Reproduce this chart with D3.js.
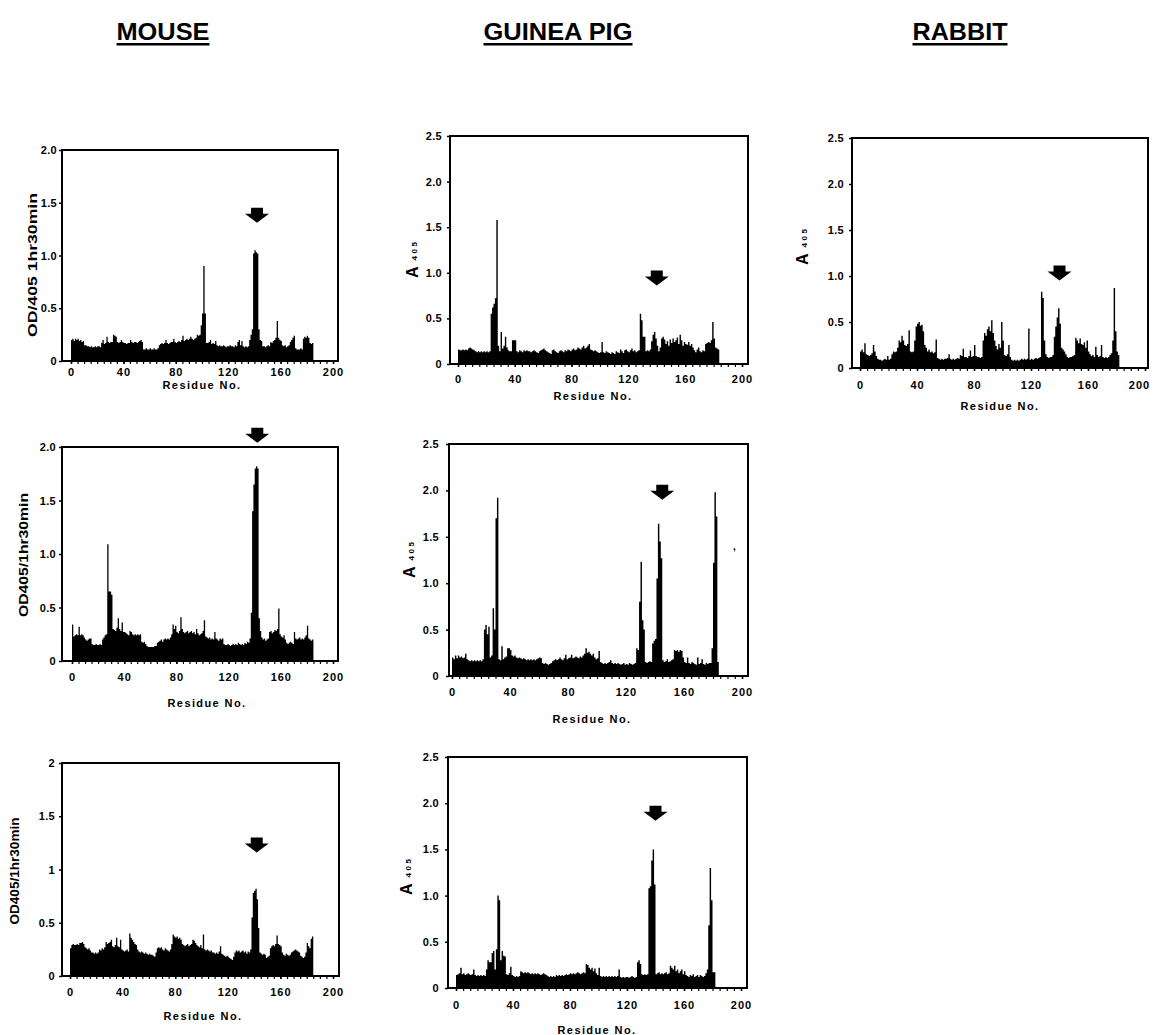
<!DOCTYPE html>
<html>
<head>
<meta charset="utf-8">
<script src="https://cdn.jsdelivr.net/npm/d3@7"></script>
<style>
  body { margin: 0; background: #fff; }
  svg text { font-family: "Liberation Sans", Arial, sans-serif; font-weight: bold; fill: #000; }
</style>
</head>
<body>
<svg id="chart" width="1153" height="1035"></svg>
<script>
// ---------- data (one value per peptide / residue) ----------
const residueTicks = [0, 40, 80, 120, 160, 200];

const speciesTitles = ["MOUSE", "GUINEA PIG", "RABBIT"];

const yTicksMouse = [0, 0.5, 1, 1.5, 2];
const yTicksGuinea = [0, 0.5, 1, 1.5, 2, 2.5];
const yLabelsMouse = ["0", "0.5", "1.0", "1.5", "2.0"];
const yLabelsMouseB = ["0", "0.5", "1", "1.5", "2"];
const yLabelsGuinea = ["0", "0.5", "1.0", "1.5", "2.0", "2.5"];

// residue under each arrow, and the value at the arrow tip
const arrowResidue = [142, 140, 140, 142, 145, 142, 140];
const arrowValue = [1.31, 0.86, 0.95, 2.04, 1.90, 1.16, 1.81];

// mouse, serum 1
const mouse1 = [
  .20,.21,.19,.21,.20,.21,.19,.20,.18,.19,
  .15,.15,.14,.14,.13,.14,.13,.13,.14,.13,
  .14,.14,.13,.17,.20,.16,.17,.23,.18,.17,
  .18,.18,.25,.24,.23,.18,.17,.18,.20,.18,
  .17,.17,.16,.17,.17,.20,.18,.17,.18,.18,
  .17,.18,.19,.20,.18,.11,.11,.12,.11,.11,
  .12,.11,.11,.12,.11,.11,.12,.15,.16,.17,
  .16,.17,.20,.17,.16,.17,.18,.18,.21,.18,
  .17,.18,.19,.18,.20,.24,.19,.20,.21,.20,
  .21,.23,.21,.20,.21,.22,.25,.24,.25,.34,
  .45,.90,.45,.17,.17,.18,.20,.16,.17,.16,
  .19,.15,.14,.15,.14,.14,.15,.14,.13,.14,
  .14,.15,.14,.14,.13,.15,.14,.18,.20,.15,
  .19,.14,.13,.14,.13,.14,.20,.25,.30,1.02,
  1.05,1.03,1.02,.30,.20,.19,.14,.14,.13,.14,
  .15,.14,.18,.17,.19,.20,.22,.38,.22,.20,
  .19,.15,.14,.15,.13,.14,.15,.18,.20,.22,
  .24,.12,.11,.11,.11,.12,.11,.21,.23,.22,
  .24,.22,.17,.16,.17
];

// guinea pig, serum 1
const guinea1 = [
  .16,.15,.15,.16,.15,.16,.15,.17,.18,.17,
  .16,.15,.14,.13,.14,.13,.14,.13,.14,.13,
  .14,.13,.14,.55,.62,.66,.72,1.58,.20,.14,
  .35,.17,.20,.30,.18,.15,.14,.14,.26,.26,
  .26,.14,.13,.15,.14,.13,.15,.14,.15,.14,
  .14,.13,.14,.15,.14,.13,.12,.14,.15,.16,
  .17,.15,.14,.13,.12,.11,.15,.16,.14,.13,
  .12,.14,.15,.14,.13,.15,.14,.16,.15,.14,
  .16,.17,.15,.16,.18,.17,.16,.18,.20,.17,
  .18,.20,.22,.16,.15,.14,.15,.14,.13,.12,
  .13,.24,.13,.12,.14,.13,.12,.11,.13,.12,
  .11,.14,.13,.12,.16,.14,.12,.15,.16,.14,
  .13,.15,.17,.14,.15,.13,.14,.15,.55,.48,
  .30,.30,.14,.15,.14,.16,.25,.32,.35,.28,
  .20,.14,.18,.28,.30,.27,.22,.25,.20,.27,
  .23,.28,.24,.26,.29,.22,.32,.26,.20,.24,
  .22,.21,.24,.20,.22,.18,.15,.13,.16,.18,
  .14,.13,.15,.14,.22,.23,.24,.23,.26,.46,
  .28,.18,.17,.16
];

// rabbit
const rabbit1 = [
  .18,.20,.17,.27,.15,.14,.13,.14,.16,.25,
  .18,.13,.10,.09,.09,.08,.09,.10,.09,.13,
  .09,.10,.15,.18,.17,.18,.22,.30,.28,.35,
  .30,.25,.24,.26,.41,.18,.17,.18,.30,.45,
  .48,.50,.46,.47,.40,.25,.22,.18,.20,.17,
  .18,.16,.17,.31,.11,.10,.09,.10,.09,.10,
  .10,.11,.15,.10,.09,.10,.09,.10,.11,.10,
  .14,.13,.21,.12,.12,.11,.13,.19,.12,.13,
  .25,.13,.12,.12,.11,.12,.30,.38,.35,.42,
  .45,.40,.52,.38,.30,.24,.20,.26,.22,.50,
  .30,.14,.13,.15,.25,.12,.09,.08,.09,.08,
  .09,.08,.09,.10,.09,.10,.09,.10,.43,.09,
  .10,.09,.10,.11,.10,.11,.12,.83,.76,.30,
  .15,.12,.11,.12,.12,.14,.34,.45,.55,.65,
  .48,.22,.20,.18,.15,.12,.11,.12,.12,.13,
  .14,.33,.30,.27,.32,.26,.25,.28,.22,.30,
  .18,.15,.13,.14,.12,.23,.14,.12,.13,.25,
  .12,.11,.12,.11,.12,.14,.16,.30,.87,.40,
  .18,.14
];

// mouse, serum 2
const mouse2 = [
  .34,.23,.24,.25,.24,.32,.24,.25,.24,.22,
  .20,.19,.20,.21,.21,.16,.15,.15,.16,.15,
  .15,.16,.15,.20,.22,.24,.25,1.09,.65,.65,
  .62,.30,.29,.28,.31,.40,.30,.28,.36,.27,
  .27,.26,.25,.24,.28,.27,.25,.24,.25,.24,
  .25,.24,.25,.18,.17,.18,.16,.14,.13,.13,
  .13,.13,.13,.14,.14,.17,.18,.19,.20,.18,
  .20,.21,.20,.21,.20,.22,.25,.34,.30,.33,
  .27,.26,.28,.41,.30,.27,.26,.27,.28,.26,
  .27,.28,.26,.27,.25,.30,.26,.24,.25,.26,
  .28,.38,.23,.22,.21,.22,.20,.21,.20,.27,
  .21,.20,.19,.21,.20,.21,.16,.15,.15,.16,
  .15,.14,.15,.16,.15,.16,.15,.17,.16,.15,
  .16,.15,.17,.16,.18,.17,.21,.45,1.40,1.65,
  1.80,1.82,1.80,.40,.28,.22,.20,.21,.19,.20,
  .21,.27,.28,.26,.27,.29,.28,.30,.49,.25,
  .23,.22,.24,.20,.17,.16,.17,.18,.17,.16,
  .27,.21,.20,.21,.22,.20,.21,.20,.22,.24,
  .33,.21,.20,.19,.20
];

// guinea pig, serum 2
const guinea2 = [
  .20,.18,.22,.19,.22,.20,.21,.19,.20,.24,
  .18,.17,.16,.17,.16,.17,.16,.17,.16,.17,
  .16,.18,.50,.55,.45,.53,.20,.22,.73,.50,
  1.70,1.92,.18,.17,.32,.18,.20,.21,.30,.30,
  .28,.22,.21,.22,.20,.19,.20,.19,.18,.19,
  .18,.17,.18,.17,.18,.17,.18,.17,.18,.19,
  .20,.19,.14,.13,.14,.13,.12,.13,.14,.16,
  .17,.18,.17,.18,.20,.18,.17,.19,.23,.18,
  .19,.20,.23,.19,.20,.21,.20,.19,.21,.20,
  .22,.24,.30,.25,.26,.24,.22,.24,.20,.18,
  .19,.27,.15,.14,.13,.14,.13,.14,.15,.17,
  .14,.13,.14,.13,.14,.13,.12,.13,.14,.12,
  .13,.12,.14,.13,.12,.13,.14,.30,.28,.80,
  1.23,.60,.50,.15,.14,.15,.16,.15,.35,.38,
  .40,1.05,1.64,1.45,1.27,.17,.15,.16,.18,.15,
  .16,.17,.18,.28,.27,.28,.26,.28,.27,.20,
  .15,.14,.20,.14,.13,.15,.14,.13,.12,.20,
  .13,.14,.18,.13,.12,.14,.13,.14,.14,.30,
  1.22,1.98,1.72,.15
];

// mouse, serum 3
const mouse3 = [
  .26,.29,.30,.29,.29,.30,.29,.31,.31,.32,
  .30,.27,.26,.25,.26,.24,.22,.22,.21,.22,
  .21,.22,.25,.24,.26,.25,.27,.32,.30,.31,
  .32,.34,.28,.27,.29,.36,.28,.27,.34,.25,
  .24,.23,.24,.25,.23,.40,.36,.34,.32,.30,
  .29,.25,.23,.22,.23,.22,.21,.22,.21,.20,
  .21,.20,.20,.19,.18,.22,.26,.27,.26,.27,
  .25,.24,.26,.25,.24,.23,.25,.30,.39,.37,
  .36,.37,.35,.36,.34,.30,.29,.28,.29,.30,
  .28,.29,.30,.34,.33,.31,.29,.28,.27,.29,
  .26,.39,.25,.24,.25,.24,.23,.24,.22,.22,
  .21,.22,.21,.23,.28,.21,.20,.19,.18,.19,
  .18,.17,.16,.15,.18,.22,.24,.23,.24,.22,
  .23,.24,.22,.23,.21,.23,.22,.25,.55,.78,
  .80,.82,.72,.45,.22,.21,.20,.21,.20,.17,
  .18,.19,.26,.28,.29,.28,.30,.38,.30,.29,
  .28,.22,.20,.19,.21,.20,.19,.20,.22,.23,
  .24,.25,.24,.23,.22,.19,.18,.17,.18,.22,
  .31,.28,.26,.35,.37
];

// guinea pig, serum 3
const guinea3 = [
  .14,.15,.16,.22,.15,.16,.14,.15,.16,.15,
  .14,.15,.20,.14,.13,.14,.13,.14,.13,.14,
  .13,.20,.30,.28,.28,.38,.40,.20,.42,1.00,
  .95,.30,.40,.35,.34,.15,.14,.16,.23,.14,
  .13,.12,.13,.12,.13,.18,.17,.16,.17,.16,
  .17,.16,.15,.16,.15,.16,.15,.16,.15,.14,
  .15,.16,.15,.14,.13,.12,.13,.12,.13,.12,
  .14,.13,.14,.13,.14,.13,.14,.15,.14,.15,
  .16,.15,.16,.15,.16,.17,.16,.15,.16,.17,
  .16,.26,.25,.22,.20,.22,.18,.21,.16,.14,
  .22,.13,.12,.13,.12,.13,.12,.13,.12,.13,
  .12,.13,.12,.13,.20,.12,.11,.12,.11,.12,
  .12,.11,.12,.13,.12,.11,.12,.28,.30,.26,
  .15,.14,.15,.14,.15,1.08,1.10,1.38,1.50,1.12,
  .15,.16,.17,.15,.16,.15,.16,.17,.15,.16,
  .24,.22,.20,.24,.18,.20,.16,.18,.20,.15,
  .18,.14,.13,.12,.14,.13,.15,.12,.13,.14,
  .12,.14,.13,.12,.13,.16,.20,.68,1.30,.95,
  .17,.17
];

// ---------- layout of the seven panels (pixels) ----------
const panels = [
  { values: mouse1, yMax: 2, yTicks: yTicksMouse, yLabels: yLabelsMouse,
    left: 62, right: 338, top: 150, bottom: 361, x0: 71, x1: 333, yPad: 2, xPad: 4,
    ylab: { kind: "od", text: "OD/405  1hr30min", x: 37, cy: 265, len: 144 },
    res: { cx: 202, cy: 385 } },
  { values: guinea1, yMax: 2.5, yTicks: yTicksGuinea, yLabels: yLabelsGuinea,
    left: 450, right: 748, top: 136, bottom: 364, x0: 458, x1: 742, yPad: 5, xPad: 8,
    ylab: { kind: "a", x: 418, y: 278 },
    res: { cx: 593, cy: 396 } },
  { values: rabbit1, yMax: 2.5, yTicks: yTicksGuinea, yLabels: yLabelsGuinea,
    left: 852, right: 1148, top: 138, bottom: 368, x0: 860, x1: 1145, yPad: 5, xPad: 10,
    ylab: { kind: "a", x: 808, y: 265 },
    res: { cx: 1000, cy: 406 }, lastTickShift: -6 },
  { values: mouse2, yMax: 2, yTicks: yTicksMouse, yLabels: yLabelsMouse,
    left: 62, right: 338, top: 447, bottom: 661, x0: 72, x1: 333, yPad: 3, xPad: 9,
    ylab: { kind: "od", text: "OD405/1hr30min", x: 28, cy: 555, len: 124 },
    res: { cx: 207, cy: 703 } },
  { values: guinea2, yMax: 2.5, yTicks: yTicksGuinea, yLabels: yLabelsGuinea,
    left: 449, right: 748, top: 444, bottom: 676, x0: 452, x1: 742, yPad: 7, xPad: 9,
    ylab: { kind: "a", x: 415, y: 578 },
    res: { cx: 592, cy: 719 }, speck: { x: 733, y: 550 } },
  { values: mouse3, yMax: 2, yTicks: yTicksMouse, yLabels: yLabelsMouseB,
    left: 62, right: 339, top: 763, bottom: 976, x0: 70, x1: 333, yPad: 4, xPad: 9,
    ylab: { kind: "od", text: "OD405/1hr30min", x: 19, cy: 871, len: 107 },
    res: { cx: 203, cy: 1016 } },
  { values: guinea3, yMax: 2.5, yTicks: yTicksGuinea, yLabels: yLabelsGuinea,
    left: 448, right: 747, top: 757, bottom: 988, x0: 456, x1: 741, yPad: 6, xPad: 10,
    ylab: { kind: "a", x: 412, y: 895 },
    res: { cx: 597, cy: 1030 } }
];

const titleX = [163, 558, 960];
const titleW = [93, 149, 95];

const svg = d3.select("#chart");

// ---------- species headings ----------
speciesTitles.forEach((t, i) => {
  svg.append("text")
    .attr("x", titleX[i] - titleW[i] / 2)
    .attr("y", 40)
    .attr("textLength", titleW[i])
    .attr("lengthAdjust", "spacingAndGlyphs")
    .style("font-family", '"Liberation Sans Narrow", "Arial Narrow", "Liberation Sans", sans-serif')
    .style("font-size", "24px")
    .text(t);
  svg.append("rect")
    .attr("x", titleX[i] - titleW[i] / 2)
    .attr("y", 43)
    .attr("width", titleW[i])
    .attr("height", 2.5)
    .attr("fill", "#000");
});

// ---------- panels ----------
panels.forEach((p, k) => {
  const x = d3.scaleLinear().domain([0, 200]).range([p.x0, p.x1]);
  const y = d3.scaleLinear().domain([0, p.yMax]).range([p.bottom, p.top]);
  const g = svg.append("g");

  // filled profile, one step per residue
  const pts = p.values.map((v, i) => [i, v]);
  pts.push([p.values.length, p.values[p.values.length - 1]]);
  const area = d3.area()
    .x(d => x(d[0]))
    .y0(y(0))
    .y1(d => y(d[1]))
    .curve(d3.curveStepAfter);
  g.append("path").attr("d", area(pts)).attr("fill", "#000");

  // frame
  g.append("rect")
    .attr("x", p.left).attr("y", p.top)
    .attr("width", p.right - p.left).attr("height", p.bottom - p.top)
    .attr("fill", "none").attr("stroke", "#000").attr("stroke-width", 2);

  // y axis
  const ya = g.append("g")
    .attr("transform", `translate(${p.left},0)`)
    .call(d3.axisLeft(y).tickValues(p.yTicks)
      .tickFormat((d, i) => p.yLabels[i]).tickSize(3).tickPadding(p.yPad));
  ya.select(".domain").remove();
  ya.selectAll("line").attr("stroke-width", 1.5);
  ya.selectAll("text").style("font-size", "11px").style("letter-spacing", "0.3px");

  // x axis: small ticks every 5 residues, labels every 40
  const xm = g.append("g")
    .attr("transform", `translate(0,${p.bottom})`)
    .call(d3.axisBottom(x).tickValues(d3.range(0, 201, 5)).tickSize(3).tickFormat(""));
  xm.select(".domain").remove();
  xm.selectAll("line").attr("stroke-width", 1.2);

  const xa = g.append("g")
    .attr("transform", `translate(0,${p.bottom})`)
    .call(d3.axisBottom(x).tickValues(residueTicks).tickSize(3).tickPadding(p.xPad));
  xa.select(".domain").remove();
  xa.selectAll("line").attr("stroke-width", 1.5);
  xa.selectAll("text").style("font-size", "11px").style("letter-spacing", "1px");
  if (p.lastTickShift) {
    xa.selectAll("text").filter(d => d === 200).attr("dx", p.lastTickShift);
  }

  // "Residue No."
  g.append("text")
    .attr("x", p.res.cx).attr("y", p.res.cy + 4)
    .attr("text-anchor", "middle")
    .style("font-size", "11px").style("letter-spacing", "1.4px")
    .text("Residue No.");

  // y axis title
  if (p.ylab.kind === "od") {
    g.append("text")
      .attr("transform", `translate(${p.ylab.x},${p.ylab.cy}) rotate(-90)`)
      .attr("x", -p.ylab.len / 2)
      .attr("textLength", p.ylab.len)
      .attr("lengthAdjust", "spacingAndGlyphs")
      .style("font-size", "12px")
      .text(p.ylab.text);
  } else {
    const t = g.append("text")
      .attr("transform", `translate(${p.ylab.x},${p.ylab.y}) rotate(-90)`);
    t.append("tspan").style("font-size", "16px").text("A");
    t.append("tspan").attr("dx", 6).attr("dy", -1)
      .style("font-size", "8px")
      .style("letter-spacing", "2.5px").text("405");
  }

  // stray mark seen on the scan
  if (p.speck) {
    g.append("text").attr("x", p.speck.x).attr("y", p.speck.y)
      .style("font-size", "10px").text(",");
  }

  // arrow marking the residue of interest
  const cx = x(arrowResidue[k]);
  const ty = y(arrowValue[k]);
  g.append("path")
    .attr("d", `M${cx - 6},${ty - 15} h12 v6 h6 L${cx},${ty} L${cx - 12},${ty - 9} h6 Z`)
    .attr("fill", "#000");
});
</script>
</body>
</html>
